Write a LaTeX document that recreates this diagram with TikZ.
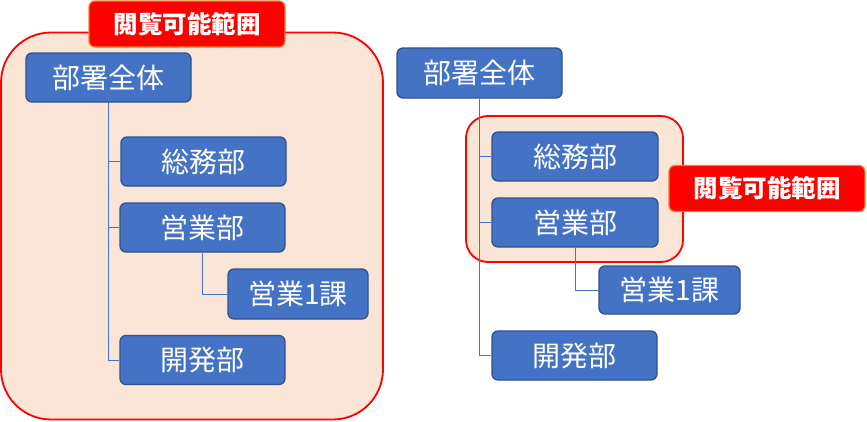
\documentclass[tikz,border=0pt]{standalone}
\usepackage{fontspec}
\newfontfamily\cjk{Noto Sans CJK JP}
\definecolor{boxblue}{HTML}{4472C4}
\definecolor{boxedge}{HTML}{2F528F}
\definecolor{pale}{HTML}{FBE5D6}
\definecolor{lbledge}{HTML}{ED7D31}
\begin{document}
\begin{tikzpicture}[x=1pt,y=-1pt,
  org/.style={draw=boxedge,line width=1.3pt,fill=boxblue,rounded corners=6pt,
    text=white,font=\cjk\fontsize{28}{31}\selectfont,inner sep=0pt,
    minimum width=165pt,minimum height=49pt},
  link/.style={draw=boxblue,line width=0.9pt},
  area/.style={draw=red,line width=1.8pt,fill=pale,inner sep=0pt},
  tag/.style={draw=lbledge,line width=1.3pt,fill=red,rounded corners=6pt,
    text=white,font=\cjk\bfseries\fontsize{24.5}{27}\selectfont,inner sep=0pt,
    minimum width=196pt,minimum height=46pt}]
\useasboundingbox (0,0) rectangle (867,421);
% left panel
\node[area,rounded corners=50pt,minimum width=382pt,minimum height=387pt] (bigL) at (192,226) {};
\node[org] (A1) at (108.5,77.5) {部署全体};
\node[org] (B1) at (203.5,161.5) {総務部};
\node[org] (C1) at (202.5,227.5) {営業部};
\node[org,minimum width=140pt,minimum height=50pt] (D1) at (298,294) {営業1課};
\node[org] (E1) at (202.5,360) {開発部};
\draw[link] (A1.south) |- (B1.west);
\draw[link] (A1.south) |- (C1.west);
\draw[link] (A1.south) |- (E1.west);
\draw[link] (C1.south) |- (D1.west);
\node[tag] (tagL) at (187,24) {閲覧可能範囲};
% right panel
\node[area,rounded corners=22pt,minimum width=217pt,minimum height=146pt] (grpR) at (574.5,189) {};
\node[org,minimum height=50pt] (A2) at (479.5,73) {部署全体};
\node[org,minimum width=166pt] (B2) at (575,156.5) {総務部};
\node[org,minimum width=166pt] (C2) at (575,222.5) {営業部};
\node[org,minimum width=141pt,minimum height=48pt] (D2) at (669.5,290) {営業1課};
\node[org] (E2) at (574.5,355.5) {開発部};
\draw[link] (A2.south) |- (B2.west);
\draw[link] (A2.south) |- (C2.west);
\draw[link] (A2.south) |- (E2.west);
\draw[link] (C2.south) |- (D2.west);
\node[tag] (tagR) at (767,188.5) {閲覧可能範囲};
\end{tikzpicture}
\end{document}
